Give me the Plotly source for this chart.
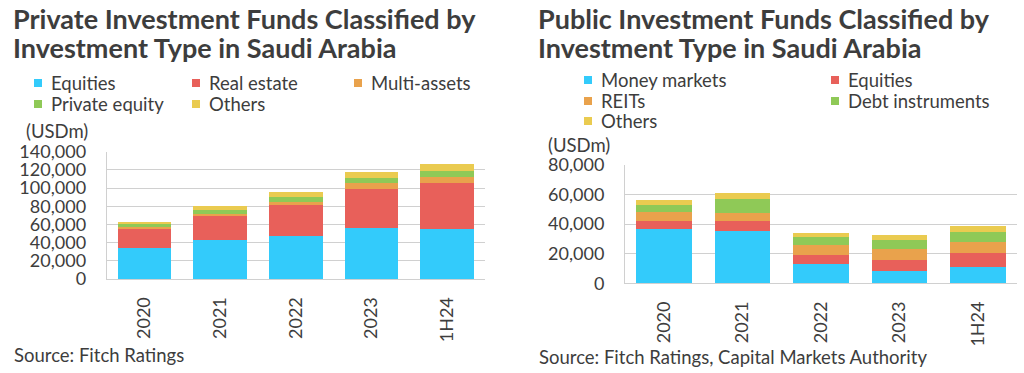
import plotly.graph_objects as go

W, H = 1024, 373

categories = ["2020", "2021", "2022", "2023", "1H24"]

# Private investment funds (USDm)
priv_names = ["Equities", "Real estate", "Multi-assets", "Private equity", "Others"]
priv_equities = [34000, 43000, 47600, 55700, 54600]
priv_real_estate = [22000, 26000, 33400, 43600, 51000]
priv_multi_assets = [2000, 2500, 4000, 6600, 6600]
priv_private_equity = [2000, 4000, 5100, 5500, 6600]
priv_others = [3000, 4800, 5100, 5900, 7300]

# Public investment funds (USDm)
pub_names = ["Money markets", "Equities", "REITs", "Debt instruments", "Others"]
pub_money_markets = [36700, 35400, 13300, 8100, 10800]
pub_equities = [5700, 6700, 6100, 7500, 9900]
pub_reits = [5800, 5200, 6700, 7400, 7200]
pub_debt = [4800, 9700, 5500, 6300, 6600]
pub_others = [3400, 4100, 2400, 3400, 4300]

colors = ["#33CBFB", "#E8605A", "#E9A24C", "#8FC957", "#EACB50"]
TEXT = "#3d3d3d"
FONT = "Lato"
GRID = "#d0d0d0"


def px(x):
    return x / W


def py(y):
    return 1 - y / H


fig = go.Figure()

priv_series = [priv_equities, priv_real_estate, priv_multi_assets, priv_private_equity, priv_others]
pub_series = [pub_money_markets, pub_equities, pub_reits, pub_debt, pub_others]

for name, vals, c in zip(priv_names, priv_series, colors):
    fig.add_trace(go.Bar(x=categories, y=vals, name=name, marker_color=c,
                         marker_line_width=0, xaxis="x", yaxis="y", showlegend=False))
for name, vals, c in zip(pub_names, pub_series, colors):
    fig.add_trace(go.Bar(x=categories, y=vals, name=name, marker_color=c,
                         marker_line_width=0, xaxis="x2", yaxis="y2", showlegend=False))

axis_common = dict(
    showgrid=False, showline=True, linecolor=GRID, linewidth=1, automargin=False,
    tickfont=dict(family=FONT, size=18, color=TEXT), fixedrange=True,
)
yaxis_common = dict(
    showgrid=True, gridcolor=GRID, gridwidth=1, showline=True, linecolor=GRID,
    tickformat=",", dtick=20000, tickfont=dict(family=FONT, size=18, color=TEXT),
    ticks="", ticklabelstandoff=16, zeroline=False, fixedrange=True, automargin=False,
)

fig.update_layout(
    width=W, height=H,
    margin=dict(l=0, r=0, t=0, b=0, autoexpand=False),
    paper_bgcolor="white", plot_bgcolor="white",
    barmode="stack", bargap=0.29,
    showlegend=False,
    xaxis=dict(domain=[px(106.7), px(485)], anchor="y", tickangle=-90,
               ticklabelstandoff=10, **axis_common),
    yaxis=dict(domain=[py(279), py(151.7)], anchor="x", range=[0, 140000], **yaxis_common),
    xaxis2=dict(domain=[px(625), px(1017)], anchor="y2", tickangle=-90,
                ticklabelstandoff=10, **axis_common),
    yaxis2=dict(domain=[py(283.3), py(165)], anchor="x2", range=[0, 80000], **yaxis_common),
)

annotations = []
shapes = []


def text(x, y, s, size, bold=False, xanchor="left"):
    annotations.append(dict(
        x=px(x), y=py(y), xref="paper", yref="paper", text=("<b>%s</b>" % s) if bold else s,
        showarrow=False, xanchor=xanchor, yanchor="middle",
        font=dict(family=FONT, size=size, color=TEXT),
    ))


# Titles
text(11, 18, "Private Investment Funds Classified by", 27, bold=True)
text(11, 48, "Investment Type in Saudi Arabia", 27, bold=True)
text(536, 18, "Public Investment Funds Classified by", 27, bold=True)
text(536, 48, "Investment Type in Saudi Arabia", 27, bold=True)

# Legends
def legend_item(x, y, name, color):
    shapes.append(dict(type="rect", xref="paper", yref="paper",
                       x0=px(x - 4), x1=px(x + 4), y0=py(y + 4), y1=py(y - 4),
                       fillcolor=color, line_width=0))
    text(x + 11, y, name, 18.5)


priv_legend_pos = [(38, 83), (196, 83), (358, 83), (38, 104), (196, 104)]
for (lx, ly), name, c in zip(priv_legend_pos, priv_names, colors):
    legend_item(lx, ly, name, c)

pub_legend_pos = [(588, 80), (835, 80), (588, 101), (835, 101), (588, 121)]
for (lx, ly), name, c in zip(pub_legend_pos, pub_names, colors):
    legend_item(lx, ly, name, c)

# Units
text(24, 131, "(USDm)", 18.5)
text(546, 145, "(USDm)", 18.5)

# Sources
text(12, 355, "Source: Fitch Ratings", 18.5)
text(537, 357, "Source: Fitch Ratings, Capital Markets Authority", 18.5)

fig.update_layout(annotations=annotations, shapes=shapes)

fig.write_html("out.html", config={"displayModeBar": False},
               post_script="document.body.style.margin='0';")
